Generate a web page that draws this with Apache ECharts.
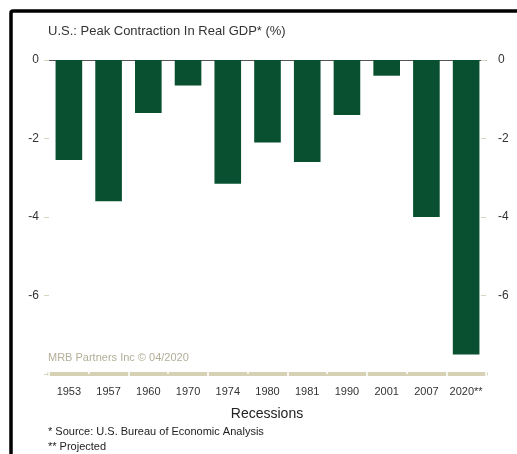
<!DOCTYPE html>
<html>
<head>
<meta charset="utf-8">
<script src="https://cdn.jsdelivr.net/npm/echarts@6/dist/echarts.min.js"></script>
<style>
html,body{margin:0;padding:0;background:#fff;}
#chart{width:517px;height:454px;}
</style>
</head>
<body>
<div id="chart"></div>
<script>
var categories = ['1953','1957','1960','1970','1974','1980','1981','1990','2001','2007','2020**'];
var contraction = [-2.55, -3.6, -1.35, -0.65, -3.15, -2.1, -2.6, -1.4, -0.4, -4.0, -7.5];
var yTicks = [0, -2, -4, -6];

var FONT = '"Liberation Sans", Arial, sans-serif';
var chart = echarts.init(document.getElementById('chart'), null, {renderer:'canvas'});
var yLabel = function(v){ return yTicks.indexOf(v) >= 0 ? String(v) : ''; };
chart.setOption({
  animation:false,
  backgroundColor:'#fff',
  grid:{left:49, right:31, top:60, bottom:80},
  xAxis:[{
    type:'category', data:categories, position:'bottom',
    axisLine:{show:true, onZero:false, lineStyle:{color:'#d6d1b4', width:4}},
    axisTick:{show:true, inside:true, length:2.5, alignWithLabel:false, lineStyle:{color:'#fff', width:1.5}},
    axisLabel:{color:'#333', fontSize:11, fontFamily:FONT, margin:12, interval:0}
  },{
    type:'category', data:categories, position:'bottom', gridIndex:0,
    axisLine:{show:false, onZero:false},
    axisTick:{show:true, inside:false, length:2.5, lineStyle:{color:'#fff', width:1.5}},
    axisLabel:{show:false}
  },{
    type:'category', data:categories, position:'top',
    axisLine:{show:true, onZero:false, lineStyle:{color:'#555', width:1.2}},
    axisTick:{show:false}, axisLabel:{show:false}
  }],
  yAxis:[{
    type:'value', min:-8, max:0, interval:2, position:'left',
    axisLine:{show:false},
    axisTick:{show:true, length:5, lineStyle:{color:'#d9d4bf', width:1}},
    axisLabel:{color:'#333', fontSize:12, fontFamily:FONT, margin:10, formatter:yLabel},
    splitLine:{show:false}
  },{
    type:'value', min:-8, max:0, interval:2, position:'right',
    axisLine:{show:false},
    axisTick:{show:true, length:5, inside:true, lineStyle:{color:'#d9d4bf', width:1}},
    axisLabel:{color:'#333', fontSize:12, fontFamily:FONT, margin:12, formatter:yLabel},
    splitLine:{show:false}
  }],
  series:[{
    type:'bar', data:contraction, xAxisIndex:0, yAxisIndex:0,
    barCategoryGap:'33%',
    itemStyle:{color:'#08502f'}
  }],
  graphic:[
    {type:'rect', shape:{x:11, y:11, width:800, height:700, r:2}, style:{fill:'none', stroke:'#000', lineWidth:3.5}, z:100},
    {type:'text', left:48, top:25, style:{text:'U.S.: Peak Contraction In Real GDP* (%)', fill:'#333', font:'13px '+FONT}},
    {type:'text', left:48, top:352, style:{text:'MRB Partners Inc \u00a9 04/2020', fill:'#b3ae98', font:'11px '+FONT}},
    {type:'text', x:267, y:414, style:{text:'Recessions', fill:'#222', font:'14px '+FONT, textAlign:'center', textVerticalAlign:'middle'}},
    {type:'text', x:48, y:432, style:{text:'* Source: U.S. Bureau of Economic Analysis', fill:'#222', font:'11px '+FONT, textVerticalAlign:'middle'}},
    {type:'text', x:48, y:447, style:{text:'** Projected', fill:'#222', font:'11px '+FONT, textVerticalAlign:'middle'}}
  ]
});
</script>
</body>
</html>
